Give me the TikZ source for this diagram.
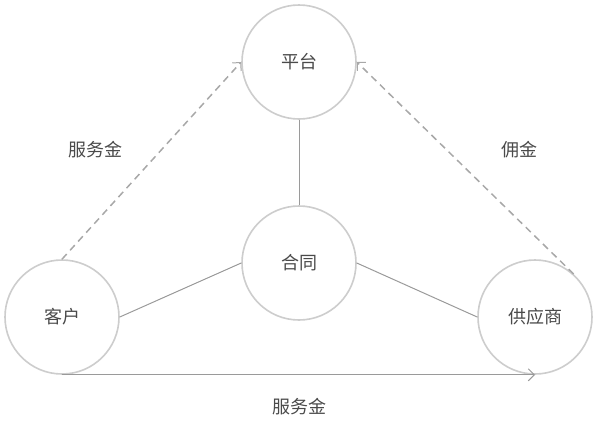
\documentclass[tikz,border=0pt]{standalone}
\usepackage{fontspec}
\newfontfamily\cjk{Noto Sans CJK SC}
\usetikzlibrary{arrows.meta}
\definecolor{txt}{HTML}{4A4A4A}
\definecolor{ln}{HTML}{9A9A9A}
\definecolor{dl}{HTML}{A8A8A8}
\definecolor{ring}{HTML}{CDCDCD}
\begin{document}
\begin{tikzpicture}[x=1pt,y=-1pt,
  ent/.style={circle,draw=ring,line width=1.6pt,minimum size=114pt,inner sep=0pt,
    font=\cjk\fontsize{18}{18}\selectfont,text=txt,fill=white},
  conn/.style={draw=ln,line width=1pt},
  dconn/.style={draw=dl,line width=1.5pt,dash pattern=on 7pt off 5pt},
  tip/.style={-{Straight Barb[length=6pt,width=12pt,line width=1pt]}},
  lbl/.style={font=\cjk\fontsize{18}{18}\selectfont,text=txt}]
\useasboundingbox (0,0) rectangle (596,424);
\node[ent] (pt) at (299,62) {平台};
\node[ent] (ht) at (299,263) {合同};
\node[ent] (kh) at (62,317) {客户};
\node[ent] (gys) at (535,317) {供应商};
\draw[conn] (pt.south) -- (ht.north);
\draw[conn] (kh.east) -- (ht.west);
\draw[conn] (ht.east) -- (gys.west);
\draw[conn,tip] (kh.south) -- (gys.south);
\draw[dconn,tip] (kh.north) -- (pt.west);
\draw[dconn,tip] (gys.48) -- (pt.east);
\node[lbl] (l1) at (95,150) {服务金};
\node[lbl] (l2) at (519,150) {佣金};
\node[lbl] (l3) at (299,407) {服务金};
\end{tikzpicture}
\end{document}
